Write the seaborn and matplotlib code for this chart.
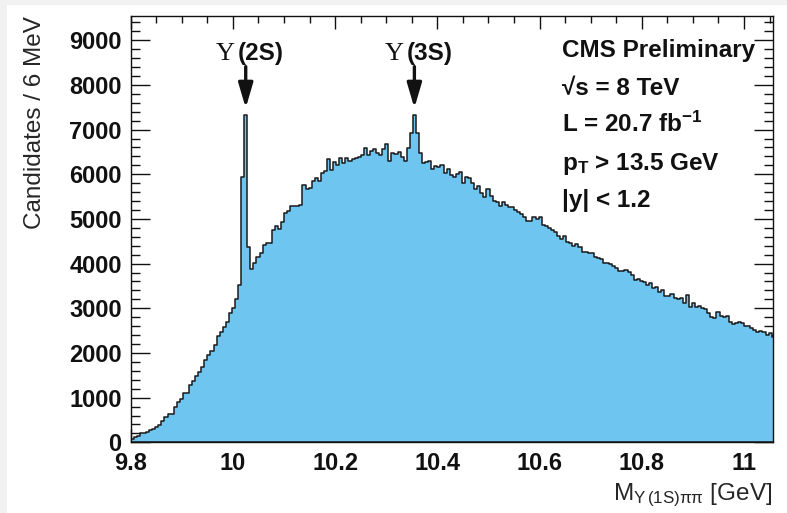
import numpy as np
import pandas as pd
import matplotlib
matplotlib.use("Agg")
import matplotlib.pyplot as plt
from matplotlib.patches import Rectangle
from matplotlib.ticker import MultipleLocator, FuncFormatter
from matplotlib.transforms import offset_copy
import seaborn as sns

# Y(1S) pi+ pi- invariant-mass spectrum, 6 MeV bins starting at 9.8 GeV
mass_lo = 9.8
bin_width = 0.006
counts = [
    81, 112, 141, 208, 215, 225, 275, 290, 342, 394,
    484, 560, 627, 627, 790, 902, 962, 1097, 1110, 1283,
    1372, 1484, 1574, 1693, 1842, 1947, 2044, 2178, 2380, 2469,
    2574, 2700, 2902, 3013, 3201, 3521, 5946, 7327, 4379, 3873,
    4007, 4156, 4245, 4417, 4455, 4469, 4753, 4843, 4783, 4932,
    5126, 5171, 5290, 5290, 5290, 5313, 5753, 5664, 5693, 5850,
    5924, 5850, 6036, 6080, 6342, 6096, 6275, 6201, 6372, 6260,
    6372, 6297, 6335, 6365, 6394, 6432, 6582, 6432, 6528, 6566,
    6484, 6432, 6566, 6671, 6297, 6469, 6454, 6506, 6394, 6305,
    6582, 6917, 7327, 6917, 6484, 6260, 6275, 6290, 6126, 6186,
    6170, 6201, 6022, 6111, 5977, 5946, 6006, 6058, 5812, 5946,
    5910, 5798, 5677, 5744, 5574, 5498, 5677, 5521, 5409, 5386,
    5297, 5380, 5319, 5260, 5274, 5200, 5155, 5110, 5037, 4954,
    4954, 5037, 5007, 5037, 4865, 4843, 4791, 4753, 4716, 4620,
    4550, 4618, 4491, 4455, 4394, 4439, 4379, 4253, 4267, 4231,
    4245, 4141, 4134, 4111, 4021, 4007, 3985, 3947, 3910, 3835,
    3842, 3857, 3820, 3745, 3633, 3656, 3618, 3581, 3521, 3559,
    3447, 3470, 3371, 3400, 3275, 3275, 3313, 3237, 3208, 3237,
    3112, 3291, 3029, 3112, 3036, 3051, 3013, 2984, 2902, 2812,
    2776, 2924, 2827, 2812, 2827, 2700, 2641, 2664, 2700, 2664,
    2611, 2611, 2552, 2514, 2477, 2492, 2470, 2402, 2455, 2351,
]

# Known resonances marked with arrows
peak_masses = [10.023, 10.355]
peak_names = ["(2S)", "(3S)"]

info_lines = [
    "CMS Preliminary",
    "\u221as = 8 TeV",
    r"L = 20.7 fb$^{\mathbf{-1}}$",
    r"p$_{\mathbf{T}}$ > 13.5 GeV",
    "|y| < 1.2",
]

sns.set_style("ticks")
plt.rcParams.update({
    "font.family": ["Liberation Sans", "DejaVu Sans"],
    "font.weight": "bold",
    "mathtext.fontset": "custom",
    "mathtext.rm": "Liberation Sans:normal",
    "mathtext.it": "Liberation Sans:italic:normal",
    "mathtext.bf": "Liberation Sans:bold",
    "mathtext.sf": "Liberation Sans:normal",
    "axes.linewidth": 1.0,
    "axes.edgecolor": "#111111",
    "xtick.color": "#111111",
    "ytick.color": "#111111",
})

edges = mass_lo + bin_width * np.arange(len(counts) + 1)
centers = edges[:-1] + bin_width / 2
df = pd.DataFrame({"mass": centers, "count": counts})

fig = plt.figure(figsize=(7.87, 5.13), dpi=100, facecolor="#f1f1f1")
fig.patches.append(Rectangle((0.0085, 0.0), 0.9915, 0.9903, transform=fig.transFigure,
                             facecolor="white", edgecolor="none", zorder=-10))
ax = fig.add_axes([0.1661, 0.1378, 0.8157, 0.8316])
ax.set_facecolor("white")

sns.histplot(data=df, x="mass", weights="count", bins=edges.tolist(), element="step",
             fill=True, facecolor="#6EC6F0", edgecolor="#1a1a1a", linewidth=1.1,
             alpha=1, ax=ax)

ax.set_xlim(9.8, 11.056)
ax.set_ylim(0, 9550)
ax.xaxis.set_major_locator(MultipleLocator(0.2))
ax.xaxis.set_minor_locator(MultipleLocator(0.05))
ax.yaxis.set_major_locator(MultipleLocator(1000))
ax.yaxis.set_minor_locator(MultipleLocator(200))
ax.xaxis.set_major_formatter(FuncFormatter(lambda v, p: f"{round(v, 3):g}"))
ax.yaxis.set_major_formatter(FuncFormatter(lambda v, p: f"{int(round(v))}"))

ax.tick_params(which="both", direction="in", top=True, right=True, width=1.0)
ax.tick_params(axis="x", which="major", length=9.4, pad=7.3, labelsize=17)
ax.tick_params(axis="x", which="minor", length=4.8)
ax.tick_params(axis="y", which="major", length=13.5, pad=6.5, labelsize=17)
ax.tick_params(axis="y", which="minor", length=6.7)

ax.set_xlabel(r"M$_{\Upsilon\,\mathrm{(1S)}\mathrm{\pi\pi}}$ [GeV]", fontsize=17.5,
              fontweight="normal", loc="right")
ax.xaxis.set_label_coords(1.0, -0.093)
ax.set_ylabel("Candidates / 6 MeV", fontsize=17.5, fontweight="normal", loc="top")
ax.yaxis.set_label_coords(-0.132, 1.0)

# Resonance arrows and labels
for m, name in zip(peak_masses, peak_names):
    idx = int((m - mass_lo) // bin_width)
    xc = centers[idx]
    ax.annotate("", xy=(xc, counts[idx] + 155), xytext=(xc, 8410),
                arrowprops=dict(arrowstyle="-|>,head_length=0.75,head_width=0.22",
                                mutation_scale=20, lw=2.4, color="#111111",
                                shrinkA=0, shrinkB=0))
    ax.text(xc, 8558, "\u03a5",
            transform=offset_copy(ax.transData, fig=fig, x=-10.6, y=0, units="dots"),
            ha="right", va="baseline", family=["Liberation Serif", "DejaVu Serif"],
            fontweight="normal", fontsize=19, color="#111111")
    ax.text(xc, 8558, name,
            transform=offset_copy(ax.transData, fig=fig, x=-7.9, y=0, units="dots"),
            ha="left", va="baseline", fontsize=17.5, fontweight="bold", color="#111111")

# Run conditions block
for line, yb in zip(info_lines, [0.904, 0.814, 0.728, 0.638, 0.552]):
    ax.text(0.6713, yb, line, transform=ax.transAxes, ha="left", va="baseline",
            fontsize=17.5, fontweight="bold", color="#111111")

fig.savefig("out.png", dpi=100, facecolor=fig.get_facecolor())
